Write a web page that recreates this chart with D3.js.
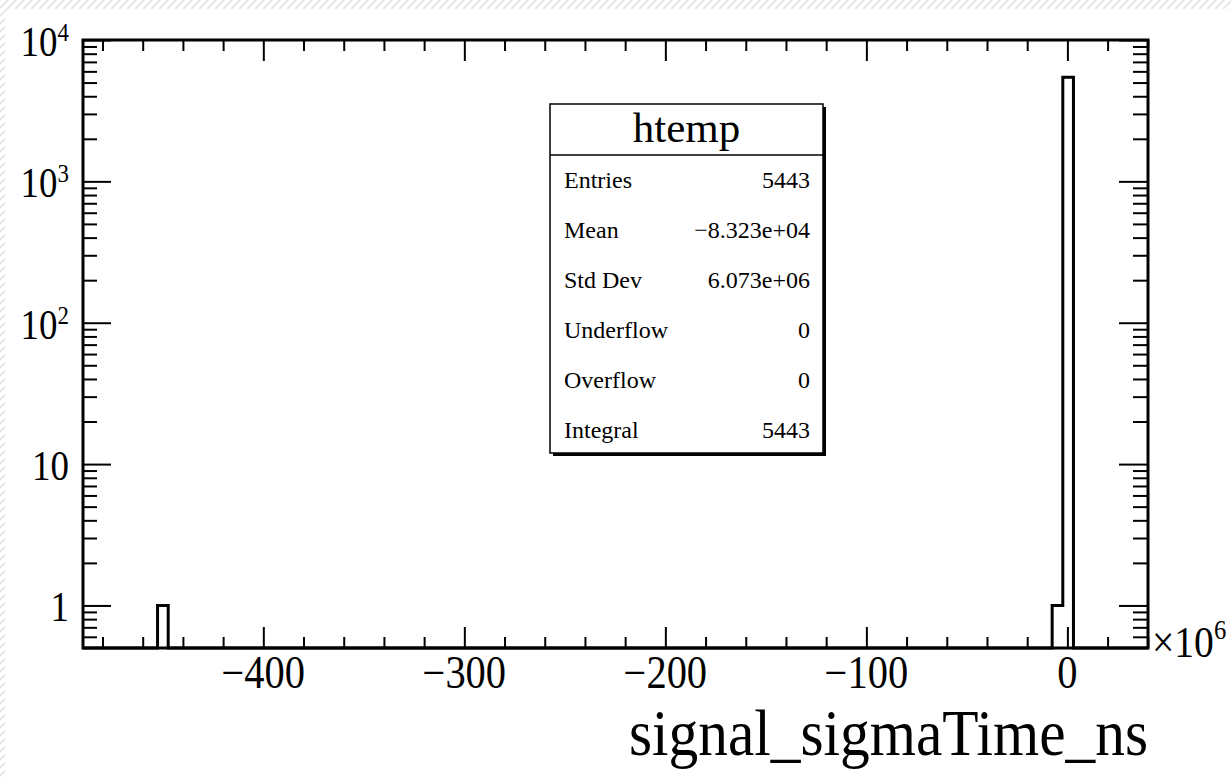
<!DOCTYPE html>
<html>
<head>
<meta charset="utf-8">
<script src="https://cdn.jsdelivr.net/npm/d3@7"></script>
<style>
body { margin: 0; background: #fff; }
text { font-family: "Liberation Serif", "Times New Roman", serif; fill: #000; }
</style>
</head>
<body>
<div id="chart"></div>
<script>
// histogram htemp, x in units of 1e6 ns, 100 bins
var nBins = 100;
var xMin = -489.7;
var xMax = 40.1;
var filledBins = [7, 91, 92];
var filledCounts = [1, 1, 5441];

var xTickLabels = [-400, -300, -200, -100, 0];
var yDecades = [1, 10, 100, 1000, 10000];
var yExponents = ["", "", "2", "3", "4"];
var statNames = ["Entries", "Mean", "Std Dev", "Underflow", "Overflow", "Integral"];
var statValues = ["5443", "\u22128.323e+04", "6.073e+06", "0", "0", "5443"];

var width = 1231;
var height = 779;
var frame = {left: 83, right: 1148, top: 40, bottom: 648};

var svg = d3.select('#chart')
    .append('svg')
    .attr('width', width)
    .attr('height', height);

// hatched page border (top and left)
var defs = svg.append('defs');
defs.append('pattern')
    .attr('id', 'hatch')
    .attr('patternUnits', 'userSpaceOnUse')
    .attr('width', 8)
    .attr('height', 8)
    .append('path')
    .attr('d', 'M-2,2 l4,-4 M0,8 l8,-8 M6,10 l4,-4')
    .attr('stroke', '#e4e4e4')
    .attr('stroke-width', 1.6);
svg.append('rect').attr('width', width).attr('height', height).attr('fill', 'url(#hatch)');
svg.append('rect')
    .attr('x', 5).attr('y', 9)
    .attr('width', width + 20).attr('height', height + 20)
    .attr('rx', 8)
    .attr('fill', '#fff');

var x = d3.scaleLinear()
    .domain([xMin, xMax])
    .range([frame.left, frame.right]);

var y = d3.scaleLog()
    .domain([0.5, 1e4])
    .range([frame.bottom, frame.top]);

// full bin contents
var counts = d3.range(nBins).map(() => 0);
filledBins.forEach((b, i) => { counts[b] = filledCounts[i]; });
var binWidth = (xMax - xMin) / nBins;

var pts = [[xMin, 0.5]];
counts.forEach((c, i) => {
    var lo = xMin + i * binWidth;
    var v = Math.max(c, 0.5);
    pts.push([lo, v]);
    pts.push([lo + binWidth, v]);
});
pts.push([xMax, 0.5]);

var line = d3.line()
    .x((d) => x(d[0]))
    .y((d) => y(d[1]));

svg.append('path')
    .attr('d', line(pts))
    .attr('fill', 'none')
    .attr('stroke', '#000')
    .attr('stroke-width', 3)
    .attr('stroke-linejoin', 'miter');

// tick positions
var xMajor = d3.range(-400, 1, 100);
var xMinor = d3.range(-480, 41, 20).filter((v) => v % 100 !== 0 && v >= xMin && v <= xMax);
var yMinor = [];
[0.1, 1, 10, 100, 1000].forEach((dec) => {
    d3.range(2, 10).forEach((m) => {
        var v = m * dec;
        if (v > 0.5 && v < 1e4) yMinor.push(v);
    });
});

function drawTicks(axis, tx, ty) {
    var g = svg.append('g')
        .attr('transform', 'translate(' + tx + ',' + ty + ')')
        .call(axis.tickSizeOuter(0).tickFormat(''));
    g.select('.domain').remove();
    g.selectAll('line').attr('stroke', '#000').attr('stroke-width', 2);
}

drawTicks(d3.axisBottom(x).tickValues(xMajor).tickSizeInner(-21), 0, frame.bottom);
drawTicks(d3.axisBottom(x).tickValues(xMinor).tickSizeInner(-11), 0, frame.bottom);
drawTicks(d3.axisTop(x).tickValues(xMajor).tickSizeInner(-21), 0, frame.top);
drawTicks(d3.axisTop(x).tickValues(xMinor).tickSizeInner(-11), 0, frame.top);
drawTicks(d3.axisLeft(y).tickValues(yDecades).tickSizeInner(-28), frame.left, 0);
drawTicks(d3.axisLeft(y).tickValues(yMinor).tickSizeInner(-14), frame.left, 0);
drawTicks(d3.axisRight(y).tickValues(yDecades).tickSizeInner(-29), frame.right, 0);
drawTicks(d3.axisRight(y).tickValues(yMinor).tickSizeInner(-15), frame.right, 0);

// frame
svg.append('rect')
    .attr('x', frame.left)
    .attr('y', frame.top)
    .attr('width', frame.right - frame.left)
    .attr('height', frame.bottom - frame.top)
    .attr('fill', 'none')
    .attr('stroke', '#000')
    .attr('stroke-width', 3);

// text helper: squeezed horizontally like the ROOT output
function addText(px, py, size, sx, anchor) {
    return svg.append('text')
        .attr('transform', 'translate(' + px + ',' + py + ') scale(' + sx + ',1)')
        .attr('font-size', size)
        .attr('text-anchor', anchor);
}

var sx = 0.88;

xTickLabels.forEach((v) => {
    addText(x(v), 688, 46, sx, 'middle').text(v < 0 ? '\u2212' + Math.abs(v) : String(v));
});

yDecades.forEach((v, i) => {
    var t = addText(69, y(v) + 16, 42, sx, 'end');
    t.append('tspan').text(v === 1 ? '1' : '10');
    if (yExponents[i] !== '') {
        t.append('tspan').attr('font-size', 26).attr('dy', -15).text(yExponents[i]);
    }
});

var mult = addText(1152, 657, 45, sx, 'start');
mult.append('tspan').text('\u00d710');
mult.append('tspan').attr('font-size', 28).attr('dy', -18).text('6');

addText(frame.right, 755, 66, 0.9, 'end').text('signal_sigmaTime_ns');

// stats box
var box = {x: 550, y: 104, w: 273, h: 349};
svg.append('rect')
    .attr('x', box.x + 3).attr('y', box.y + 3)
    .attr('width', box.w).attr('height', box.h)
    .attr('fill', '#000');
svg.append('rect')
    .attr('x', box.x).attr('y', box.y)
    .attr('width', box.w).attr('height', box.h)
    .attr('fill', '#fff')
    .attr('stroke', '#000')
    .attr('stroke-width', 1.5);
svg.append('line')
    .attr('x1', box.x).attr('x2', box.x + box.w)
    .attr('y1', 155).attr('y2', 155)
    .attr('stroke', '#000')
    .attr('stroke-width', 1.5);

addText(box.x + box.w / 2, 142, 43, 1, 'middle').text('htemp');

statNames.forEach((name, i) => {
    var by = 188 + i * 50;
    addText(564, by, 24, 1, 'start').text(name);
    addText(810, by, 24, 1, 'end').text(statValues[i]);
});
</script>
</body>
</html>
